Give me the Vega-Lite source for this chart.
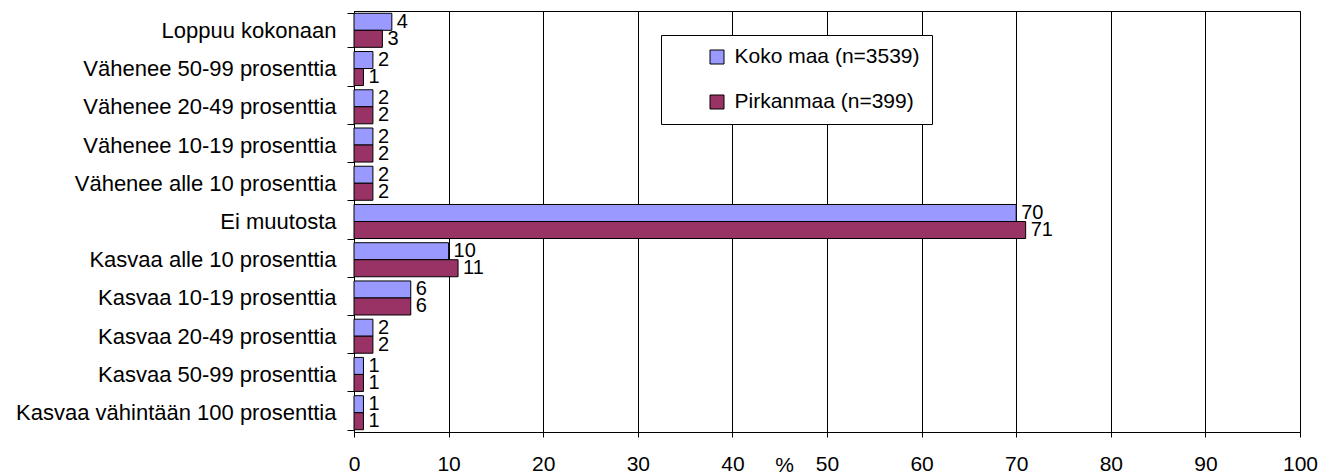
{
  "$schema": "https://vega.github.io/schema/vega-lite/v6.json",
  "width": 946,
  "height": 421,
  "autosize": {"type": "none"},
  "padding": {"left": 354, "top": 11, "right": 36, "bottom": 42},
  "background": "white",
  "config": {
    "font": "Liberation Sans",
    "view": {"stroke": "black", "strokeWidth": 1},
    "axis": {"labelColor": "black", "titleColor": "black", "domainColor": "black", "tickColor": "black"}
  },
  "data": {
    "values": [
      {"cat": "Loppuu kokonaan", "series": "Koko maa (n=3539)", "value": 4},
      {"cat": "Loppuu kokonaan", "series": "Pirkanmaa (n=399)", "value": 3},
      {"cat": "Vähenee 50-99 prosenttia", "series": "Koko maa (n=3539)", "value": 2},
      {"cat": "Vähenee 50-99 prosenttia", "series": "Pirkanmaa (n=399)", "value": 1},
      {"cat": "Vähenee 20-49 prosenttia", "series": "Koko maa (n=3539)", "value": 2},
      {"cat": "Vähenee 20-49 prosenttia", "series": "Pirkanmaa (n=399)", "value": 2},
      {"cat": "Vähenee 10-19 prosenttia", "series": "Koko maa (n=3539)", "value": 2},
      {"cat": "Vähenee 10-19 prosenttia", "series": "Pirkanmaa (n=399)", "value": 2},
      {"cat": "Vähenee alle 10 prosenttia", "series": "Koko maa (n=3539)", "value": 2},
      {"cat": "Vähenee alle 10 prosenttia", "series": "Pirkanmaa (n=399)", "value": 2},
      {"cat": "Ei muutosta", "series": "Koko maa (n=3539)", "value": 70},
      {"cat": "Ei muutosta", "series": "Pirkanmaa (n=399)", "value": 71},
      {"cat": "Kasvaa alle 10 prosenttia", "series": "Koko maa (n=3539)", "value": 10},
      {"cat": "Kasvaa alle 10 prosenttia", "series": "Pirkanmaa (n=399)", "value": 11},
      {"cat": "Kasvaa 10-19 prosenttia", "series": "Koko maa (n=3539)", "value": 6},
      {"cat": "Kasvaa 10-19 prosenttia", "series": "Pirkanmaa (n=399)", "value": 6},
      {"cat": "Kasvaa 20-49 prosenttia", "series": "Koko maa (n=3539)", "value": 2},
      {"cat": "Kasvaa 20-49 prosenttia", "series": "Pirkanmaa (n=399)", "value": 2},
      {"cat": "Kasvaa 50-99 prosenttia", "series": "Koko maa (n=3539)", "value": 1},
      {"cat": "Kasvaa 50-99 prosenttia", "series": "Pirkanmaa (n=399)", "value": 1},
      {"cat": "Kasvaa vähintään 100 prosenttia", "series": "Koko maa (n=3539)", "value": 1},
      {"cat": "Kasvaa vähintään 100 prosenttia", "series": "Pirkanmaa (n=399)", "value": 1}
    ]
  },
  "encoding": {
    "y": {
      "field": "cat", "type": "nominal", "sort": null,
      "scale": {"paddingInner": 0.11, "paddingOuter": 0.06},
      "axis": {
        "title": null, "labelFontSize": 22, "labelPadding": 11, "tickSize": 7,
        "tickBand": "extent", "labelLimit": 400, "grid": false, "domainWidth": 1
      }
    },
    "yOffset": {"field": "series", "type": "nominal", "scale": {"paddingInner": 0, "paddingOuter": 0}},
    "x": {
      "field": "value", "type": "quantitative",
      "scale": {"domain": [0, 100], "nice": false},
      "axis": {
        "title": "%", "titleFontSize": 21, "titleFontWeight": "normal",
        "titleX": 430, "titleY": 22, "titleAlign": "center", "titleBaseline": "top",
        "values": [0, 10, 20, 30, 40, 50, 60, 70, 80, 90, 100],
        "labelFontSize": 21, "tickSize": 5, "labelPadding": 16,
        "grid": true, "gridColor": "black", "gridOpacity": 1, "gridWidth": 1,
        "labelFlush": false, "labelOverlap": false
      }
    }
  },
  "layer": [
    {
      "mark": {"type": "bar", "stroke": "black", "strokeWidth": 1},
      "encoding": {
        "color": {
          "field": "series", "type": "nominal",
          "scale": {"range": ["#9999FF", "#993366"]},
          "legend": {
            "title": null, "orient": "none", "legendX": 307, "legendY": 24,
            "symbolType": "square", "symbolSize": 196, "symbolStrokeColor": "black",
            "symbolStrokeWidth": 1, "symbolOpacity": 1,
            "labelFontSize": 21, "labelColor": "black", "labelLimit": 400,
            "rowPadding": 23, "padding": 11.5, "symbolOffset": 34, "labelOffset": 7,
            "strokeColor": "black", "fillColor": "white", "cornerRadius": 0
          }
        }
      }
    },
    {
      "mark": {"type": "text", "align": "left", "baseline": "middle", "dx": 5, "fontSize": 20, "color": "black"},
      "encoding": {"text": {"field": "value", "type": "quantitative"}}
    }
  ]
}
